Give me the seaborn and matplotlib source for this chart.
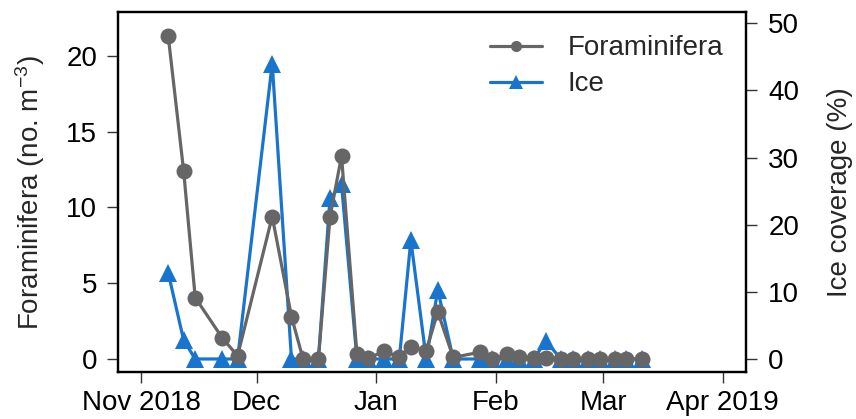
import numpy as np
import pandas as pd
import matplotlib
matplotlib.use("Agg")
import matplotlib.pyplot as plt
import matplotlib.dates as mdates
from matplotlib.lines import Line2D
import seaborn as sns

# Sampling dates and measurements
sample_dates = [
    "2018-11-08", "2018-11-12", "2018-11-15", "2018-11-22", "2018-11-26",
    "2018-12-05", "2018-12-10", "2018-12-13", "2018-12-17", "2018-12-20",
    "2018-12-23", "2018-12-27", "2018-12-30", "2019-01-03", "2019-01-07",
    "2019-01-10", "2019-01-14", "2019-01-17", "2019-01-21", "2019-01-28",
    "2019-01-31", "2019-02-04", "2019-02-07", "2019-02-11", "2019-02-14",
    "2019-02-18", "2019-02-21", "2019-02-25", "2019-02-28", "2019-03-04",
    "2019-03-07", "2019-03-11",
]
foraminifera = [
    21.3, 12.4, 4.05, 1.4, 0.2,
    9.4, 2.8, 0.0, 0.0, 9.35,
    13.4, 0.3, 0.05, 0.5, 0.15,
    0.8, 0.55, 3.1, 0.1, 0.45,
    0.0, 0.3, 0.1, 0.05, 0.05,
    0.0, 0.0, 0.0, 0.0, 0.0,
    0.0, 0.0,
]
ice_coverage = [
    12.8, 2.8, 0.0, 0.0, 0.0,
    44.0, 0.0, 0.0, 0.0, 23.9,
    26.0, 0.0, 0.0, 0.0, 0.0,
    17.7, 0.0, 10.3, 0.0, 0.0,
    0.0, 0.0, 0.0, 0.0, 2.7,
    0.0, 0.0, 0.0, 0.0, 0.0,
    0.0, 0.0,
]
month_ticks = ["2018-11-01", "2018-12-01", "2019-01-01", "2019-02-01",
               "2019-03-01", "2019-04-01"]
month_labels = ["Nov 2018", "Dec", "Jan", "Feb", "Mar", "Apr 2019"]
left_ticks = [0, 5, 10, 15, 20]
right_ticks = [0, 10, 20, 30, 40, 50]

df = pd.DataFrame({
    "date": pd.to_datetime(sample_dates),
    "foram": foraminifera,
    "ice": ice_coverage,
})

sns.set_style("ticks")
plt.rcParams["font.family"] = ["Liberation Sans", "DejaVu Sans"]
plt.rcParams["mathtext.fontset"] = "custom"
plt.rcParams["mathtext.rm"] = "Liberation Sans"
plt.rcParams["mathtext.default"] = "regular"

GREY = "#666666"
BLUE = "#1874CD"
FS = 20

fig = plt.figure(figsize=(8.56, 4.19), dpi=100)
ax = fig.add_axes([0.1379, 0.1115, 0.7336, 0.8587])
ax2 = ax.twinx()

sns.lineplot(data=df, x="date", y="ice", ax=ax2, color=BLUE, marker="^",
             markersize=12.5, markeredgewidth=0, linewidth=2.3, legend=False)
sns.lineplot(data=df, x="date", y="foram", ax=ax, color=GREY, marker="o",
             markersize=11.5, markeredgewidth=0, linewidth=2.3, legend=False)

# Foraminifera drawn above the ice series
ax.set_zorder(ax2.get_zorder() + 1)
ax.patch.set_visible(False)

x0 = pd.Timestamp("2018-11-01") - pd.Timedelta(days=6.04)
x1 = pd.Timestamp("2019-04-01") + pd.Timedelta(days=6.04)
ax.set_xlim(mdates.date2num(x0), mdates.date2num(x1))
ax.set_xticks(mdates.date2num(pd.to_datetime(month_ticks)))
ax.set_xticklabels(month_labels)

ax.set_ylim(-0.88, 22.87)
ax.set_yticks(left_ticks)
ax2.set_ylim(-1.98, 51.6)
ax2.set_yticks(right_ticks)

ax.set_xlabel("")
ax.set_ylabel(r"Foraminifera (no. m$^{-3}$)", fontsize=FS, va="center")
ax2.set_ylabel("Ice coverage (%)", fontsize=FS, va="center")
ax.yaxis.set_label_coords(-0.14, 0.5)
ax2.yaxis.set_label_coords(1.15, 0.5)

for a in (ax, ax2):
    for s in a.spines.values():
        s.set_visible(True)
        s.set_linewidth(1.6)
        s.set_color("black")
    a.tick_params(axis="both", which="major", labelsize=FS, length=8,
                  width=1.0, color="#333333", labelcolor="black")
ax.tick_params(axis="y", pad=7)
ax.tick_params(axis="x", pad=5)
ax2.tick_params(axis="y", pad=8)

handles = [
    Line2D([], [], color=GREY, marker="o", markersize=8, markeredgewidth=0,
           linewidth=2.3),
    Line2D([], [], color=BLUE, marker="^", markersize=10.5, markeredgewidth=0,
           linewidth=2.3),
]
fig.legend(handles, ["Foraminifera", "Ice"], loc="upper left",
           bbox_to_anchor=(0.572, 0.9155), frameon=False, fontsize=FS,
           handlelength=1.9, handletextpad=0.9, labelspacing=0.36,
           borderpad=0, borderaxespad=0)

fig.savefig("out.png", dpi=100)
